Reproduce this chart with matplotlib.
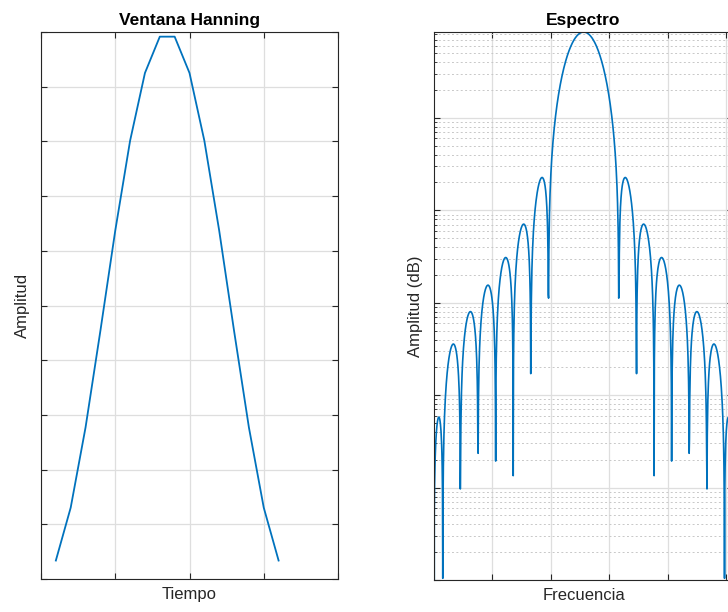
import numpy as np
import matplotlib
matplotlib.use("Agg")
import matplotlib.pyplot as plt
from matplotlib.ticker import LogLocator, NullFormatter, FixedLocator

plt.rcParams["font.family"] = ["Liberation Sans", "DejaVu Sans"]

# ----- DATA -----
# 16 samples of the Hanning window, symmetric, plotted at n = 1..16
muestras = np.arange(1, 17)
ventana = [0.033764, 0.130496, 0.277131, 0.453866, 0.636832, 0.801317, 0.925109, 0.991487,
           0.991487, 0.925109, 0.801317, 0.636832, 0.453866, 0.277131, 0.130496, 0.033764]
n_fft = 1024

# spectrum of the window above (zero padded fft, shifted), x = bin index
espectro = np.abs(np.fft.fftshift(np.fft.fft(ventana, n_fft)))
bins = np.arange(1, n_fft + 1)

# ----- STYLE -----
linea = "#0072BD"
eje = "#262626"
rejilla = "#dedede"
rejilla_menor = "#c8c8c8"

fig = plt.figure(figsize=(7.28, 6.12), dpi=100)

W, H = 728.0, 612.0
ax1 = fig.add_axes([41 / W, 1 - 579 / H, 297 / W, 547 / H])
ax2 = fig.add_axes([434 / W, 1 - 580 / H, 299 / W, 548 / H])


def estilo(ax):
    for s in ax.spines.values():
        s.set_color(eje)
        s.set_linewidth(0.8)
    ax.tick_params(which="both", direction="in", top=True, right=True,
                   color=eje, labelbottom=False, labelleft=False)
    ax.tick_params(which="major", length=4, width=0.8)
    ax.tick_params(which="minor", length=2.2, width=0.6)
    ax.set_axisbelow(True)


# ----- LEFT: window -----
ax1.plot(muestras, ventana, color=linea, lw=1.3)
ax1.set_xlim(0, 20)
ax1.set_ylim(0, 1)
ax1.xaxis.set_major_locator(FixedLocator([0, 5, 10, 15, 20]))
ax1.yaxis.set_major_locator(FixedLocator(np.linspace(0, 1, 11)))
ax1.grid(True, color=rejilla, lw=0.9)
estilo(ax1)
ax1.set_title("Ventana Hanning", fontsize=12.5, fontweight="bold", pad=5)
ax1.set_xlabel("Tiempo", fontsize=12, color="#262626", labelpad=6)
ax1.set_ylabel("Amplitud", fontsize=12, color="#262626", labelpad=8)

# ----- RIGHT: spectrum -----
ax2.semilogy(bins, espectro, color=linea, lw=1.2)
ax2.set_xlim(1, n_fft)
ax2.set_ylim(1e-5, espectro.max())
ax2.xaxis.set_major_locator(FixedLocator([200, 400, 600, 800, 1000]))
ax2.yaxis.set_major_locator(LogLocator(base=10, numticks=20))
ax2.yaxis.set_minor_locator(LogLocator(base=10, subs=np.arange(2, 10), numticks=20))
ax2.yaxis.set_minor_formatter(NullFormatter())
ax2.grid(True, which="major", color=rejilla, lw=0.9)
ax2.grid(True, which="minor", axis="y", color=rejilla_menor, lw=0.7,
         linestyle=(0, (2, 2.5)))
estilo(ax2)
ax2.set_title("Espectro", fontsize=12.5, fontweight="bold", pad=5)
ax2.set_xlabel("Frecuencia", fontsize=12, color="#262626", labelpad=6)
ax2.set_ylabel("Amplitud (dB)", fontsize=12, color="#262626", labelpad=8)

fig.savefig("out.png", dpi=100)
